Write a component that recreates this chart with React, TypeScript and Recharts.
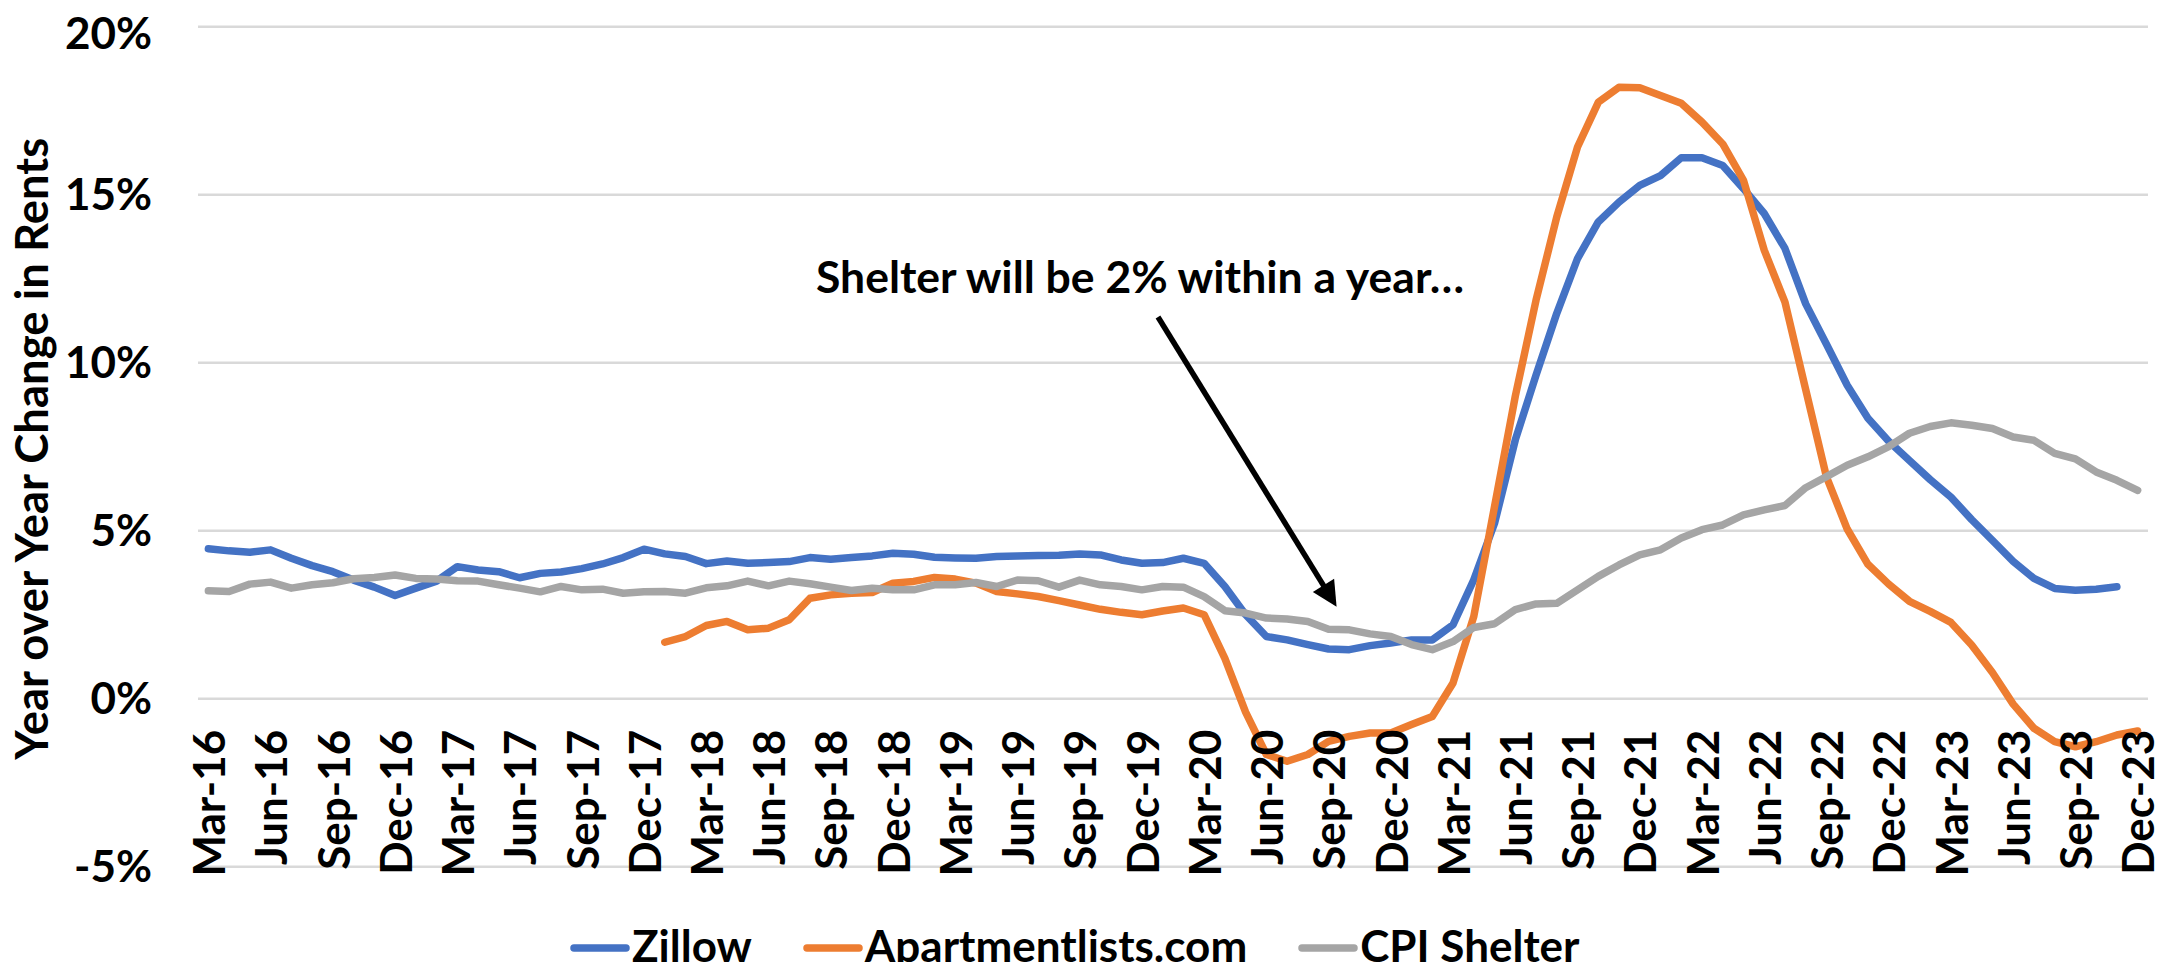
import React from 'react';
import { LineChart, Line, XAxis, YAxis, CartesianGrid, Legend } from 'recharts';

// month labels, Mar-16 .. Dec-23
const months = [
  'Mar-16', 'Apr-16', 'May-16', 'Jun-16', 'Jul-16', 'Aug-16', 'Sep-16', 'Oct-16', 'Nov-16', 'Dec-16',
  'Jan-17', 'Feb-17', 'Mar-17', 'Apr-17', 'May-17', 'Jun-17', 'Jul-17', 'Aug-17', 'Sep-17', 'Oct-17', 'Nov-17', 'Dec-17',
  'Jan-18', 'Feb-18', 'Mar-18', 'Apr-18', 'May-18', 'Jun-18', 'Jul-18', 'Aug-18', 'Sep-18', 'Oct-18', 'Nov-18', 'Dec-18',
  'Jan-19', 'Feb-19', 'Mar-19', 'Apr-19', 'May-19', 'Jun-19', 'Jul-19', 'Aug-19', 'Sep-19', 'Oct-19', 'Nov-19', 'Dec-19',
  'Jan-20', 'Feb-20', 'Mar-20', 'Apr-20', 'May-20', 'Jun-20', 'Jul-20', 'Aug-20', 'Sep-20', 'Oct-20', 'Nov-20', 'Dec-20',
  'Jan-21', 'Feb-21', 'Mar-21', 'Apr-21', 'May-21', 'Jun-21', 'Jul-21', 'Aug-21', 'Sep-21', 'Oct-21', 'Nov-21', 'Dec-21',
  'Jan-22', 'Feb-22', 'Mar-22', 'Apr-22', 'May-22', 'Jun-22', 'Jul-22', 'Aug-22', 'Sep-22', 'Oct-22', 'Nov-22', 'Dec-22',
  'Jan-23', 'Feb-23', 'Mar-23', 'Apr-23', 'May-23', 'Jun-23', 'Jul-23', 'Aug-23', 'Sep-23', 'Oct-23', 'Nov-23', 'Dec-23',
];

// year over year change, %
const zillow = [
  4.46, 4.40, 4.36, 4.43, 4.18, 3.96, 3.78, 3.53, 3.32, 3.07,
  3.29, 3.50, 3.93, 3.83, 3.78, 3.60, 3.73, 3.77, 3.87, 4.01, 4.20, 4.45,
  4.31, 4.23, 4.02, 4.10, 4.03, 4.05, 4.08, 4.20, 4.15, 4.20, 4.25, 4.33,
  4.30, 4.21, 4.19, 4.18, 4.23, 4.25, 4.26, 4.27, 4.31, 4.28, 4.13, 4.03,
  4.05, 4.18, 4.03, 3.34, 2.50, 1.85, 1.75, 1.61, 1.48, 1.46, 1.58, 1.66,
  1.75, 1.75, 2.20, 3.54, 5.22, 7.70, 9.63, 11.47, 13.10, 14.19, 14.78, 15.28,
  15.57, 16.10, 16.10, 15.87, 15.18, 14.44, 13.40, 11.75, 10.55, 9.33, 8.35, 7.66,
  7.09, 6.52, 6.00, 5.33, 4.71, 4.09, 3.58, 3.28, 3.23, 3.26, 3.33, null,
];

const apartmentList = [
  null, null, null, null, null, null, null, null, null, null,
  null, null, null, null, null, null, null, null, null, null, null, null,
  1.68, 1.85, 2.18, 2.30, 2.05, 2.10, 2.35, 2.99, 3.09, 3.14, 3.16, 3.44,
  3.49, 3.61, 3.56, 3.44, 3.19, 3.12, 3.04, 2.92, 2.79, 2.66, 2.57, 2.50,
  2.61, 2.70, 2.50, 1.20, -0.40, -1.66, -1.86, -1.66, -1.27, -1.12, -1.02, -1.02,
  -0.77, -0.53, 0.47, 2.45, 5.72, 9.00, 11.86, 14.34, 16.42, 17.75, 18.20, 18.18,
  17.95, 17.72, 17.16, 16.51, 15.43, 13.35, 11.80, 9.20, 6.60, 5.05, 4.00, 3.41,
  2.90, 2.60, 2.27, 1.60, 0.78, -0.16, -0.88, -1.28, -1.43, -1.28, -1.08, -0.96,
];

const cpiShelter = [
  3.21, 3.19, 3.41, 3.47, 3.29, 3.39, 3.45, 3.57, 3.61, 3.68,
  3.58, 3.56, 3.51, 3.50, 3.39, 3.29, 3.18, 3.34, 3.24, 3.26, 3.14, 3.18,
  3.19, 3.14, 3.30, 3.36, 3.50, 3.36, 3.50, 3.42, 3.32, 3.22, 3.29, 3.24,
  3.24, 3.39, 3.39, 3.46, 3.34, 3.53, 3.51, 3.32, 3.53, 3.39, 3.34, 3.24,
  3.34, 3.32, 3.04, 2.62, 2.55, 2.40, 2.37, 2.30, 2.07, 2.05, 1.93, 1.85,
  1.61, 1.46, 1.70, 2.12, 2.23, 2.65, 2.82, 2.84, 3.24, 3.64, 3.98, 4.28,
  4.43, 4.78, 5.03, 5.17, 5.47, 5.62, 5.75, 6.28, 6.61, 6.95, 7.20, 7.50,
  7.90, 8.10, 8.21, 8.14, 8.04, 7.79, 7.69, 7.30, 7.14, 6.75, 6.50, 6.20,
];

const seriesNames = ['Zillow', 'Apartmentlists.com', 'CPI Shelter'];
const yTicks = [-5, 0, 5, 10, 15, 20];

const data = months.map((month, i) => ({
  month,
  zillow: zillow[i],
  apartmentList: apartmentList[i],
  cpiShelter: cpiShelter[i],
}));

const series = [
  { key: 'zillow', name: seriesNames[0], color: '#4472C4' },
  { key: 'apartmentList', name: seriesNames[1], color: '#ED7D31' },
  { key: 'cpiShelter', name: seriesNames[2], color: '#A5A5A5' },
];

const FONT = "Lato, 'Liberation Sans', sans-serif";
const FS = 44;
const CHART_W = 2164;
const CHART_H = 962;
const PLOT_LEFT = 190;
const PLOT_TOP = 18.7;
const PLOT_W = 1950;
const PLOT_H = 840;
const Y_MIN = -5;
const Y_MAX = 20;
const HALF_BAND = PLOT_W / months.length / 2;
// month labels hang just under the 0% line
const LABEL_TOP = PLOT_TOP + (PLOT_H * Y_MAX) / (Y_MAX - Y_MIN) + 31;

const MonthTick = ({ x, payload }: any) => (
  <text
    transform={`translate(${x},${LABEL_TOP}) rotate(-90)`}
    textAnchor="end"
    dy="0.38em"
    fontFamily={FONT}
    fontWeight={700}
    fontSize={FS}
    fill="#000"
  >
    {payload.value}
  </text>
);

const YTitle = () => (
  <text
    transform={`translate(40,${PLOT_TOP + PLOT_H / 2 + 2}) rotate(-90)`}
    textAnchor="middle"
    fontFamily={FONT}
    fontWeight={700}
    fontSize={45.5}
    fill="#000"
  >
    Year over Year Change in Rents
  </text>
);

const renderLegend = () => (
  <div
    style={{
      display: 'flex',
      alignItems: 'center',
      height: 44,
      lineHeight: '44px',
      fontFamily: FONT,
      fontWeight: 700,
      fontSize: FS,
      color: '#000',
      whiteSpace: 'nowrap',
    }}
  >
    {series.map((s, i) => (
      <div key={s.key} style={{ display: 'flex', alignItems: 'center', marginLeft: i ? 51 : 0 }}>
        <svg width={60} height={12} style={{ marginTop: 6 }}>
          <line x1={4} y1={6} x2={56} y2={6} stroke={s.color} strokeWidth={7.5} strokeLinecap="round" />
        </svg>
        <span style={{ marginLeft: 2 }}>{s.name}</span>
      </div>
    ))}
  </div>
);

// annotation arrow, chart pixels
const ARROW_FROM = { x: 1150, y: 309 };
const ARROW_TO = { x: 1328.6, y: 598.7 };

const Arrow = () => {
  const dx = ARROW_TO.x - ARROW_FROM.x;
  const dy = ARROW_TO.y - ARROW_FROM.y;
  const len = Math.hypot(dx, dy);
  const ux = dx / len;
  const uy = dy / len;
  const headLen = 25;
  const headHalf = 12.5;
  const bx = ARROW_TO.x - headLen * ux;
  const by = ARROW_TO.y - headLen * uy;
  const pts = [
    `${ARROW_TO.x},${ARROW_TO.y}`,
    `${bx - headHalf * uy},${by + headHalf * ux}`,
    `${bx + headHalf * uy},${by - headHalf * ux}`,
  ].join(' ');
  return (
    <g>
      <line x1={ARROW_FROM.x} y1={ARROW_FROM.y} x2={bx + 2 * ux} y2={by + 2 * uy} stroke="#000" strokeWidth={5.5} />
      <polygon points={pts} fill="#000" />
    </g>
  );
};

const App: React.FC = () => (
  <div style={{ position: 'relative', width: CHART_W, height: CHART_H, marginBottom: -8 }}>
    <LineChart
      width={CHART_W}
      height={CHART_H}
      data={data}
      margin={{ top: PLOT_TOP, right: CHART_W - PLOT_LEFT - PLOT_W, left: 0, bottom: 0 }}
    >
      <CartesianGrid vertical={false} stroke="#D9D9D9" strokeWidth={2.5} />
      <XAxis
        dataKey="month"
        interval={2}
        axisLine={false}
        tickLine={false}
        height={CHART_H - PLOT_TOP - PLOT_H}
        padding={{ left: HALF_BAND, right: HALF_BAND }}
        tick={<MonthTick />}
      />
      <YAxis
        domain={[Y_MIN, Y_MAX]}
        ticks={yTicks}
        width={PLOT_LEFT}
        axisLine={false}
        tickLine={false}
        tickSize={0}
        tickMargin={46}
        tickFormatter={(v: number) => `${v}%`}
        tick={{ fontFamily: FONT, fontWeight: 700, fontSize: FS, fill: '#000' }}
        label={{ content: <YTitle /> }}
      />
      <Legend
        layout="horizontal"
        verticalAlign="middle"
        align="center"
        wrapperStyle={{ top: 915, left: 562, width: 1200, height: 44 }}
        content={renderLegend}
      />
      {series.map((s) => (
        <Line
          key={s.key}
          type="linear"
          dataKey={s.key}
          name={s.name}
          stroke={s.color}
          strokeWidth={7.5}
          strokeLinecap="round"
          strokeLinejoin="round"
          dot={false}
          isAnimationActive={false}
        />
      ))}
    </LineChart>
    <svg
      width={CHART_W}
      height={CHART_H}
      style={{ position: 'absolute', left: 0, top: 0, pointerEvents: 'none' }}
    >
      <text x={1132} y={285} textAnchor="middle" fontFamily={FONT} fontWeight={700} fontSize={44.5} fill="#000">
        Shelter will be 2% within a year…
      </text>
      <Arrow />
    </svg>
  </div>
);

export default App;
